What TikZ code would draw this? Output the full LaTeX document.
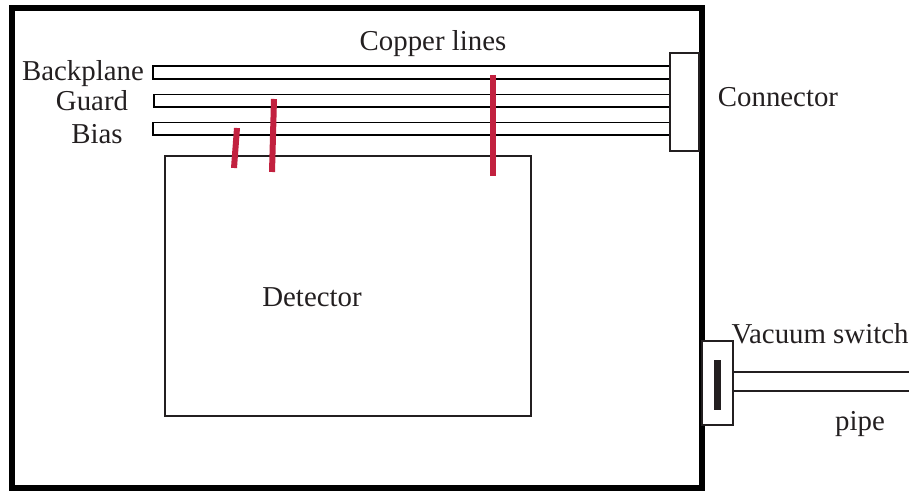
\documentclass[tikz,border=0pt]{standalone}
\usepackage{fontspec}
\setmainfont{Liberation Serif}
\usepackage{xcolor}
\definecolor{textmain}{HTML}{231F20}
\definecolor{strap}{HTML}{C2213F}
\usetikzlibrary{positioning}

\begin{document}
\begin{tikzpicture}[
        x=0.01cm, y=-0.01cm,
        font=\fontsize{8.2}{10}\selectfont,
        label_text/.style={text=textmain, inner sep=0pt, anchor=base},
        frame_line/.style={draw=black, line width=6*0.01cm},
        copper_line/.style={draw=black, line width=1.6*0.01cm},
        strap_line/.style={draw=strap, line width=6*0.01cm},
        box/.style={
            rectangle,
            draw=textmain,
            fill=white,
            line width=1.2*0.01cm,
            inner sep=0pt
        }
    ]
    \useasboundingbox (0, 0) rectangle (909, 495);

    % Vessel
    \draw[frame_line] (12, 8) rectangle (702, 488);

    % Boxes
    \node[box, minimum width=366*0.01cm, minimum height=260*0.01cm] (detector) at (348, 286) {};
    \node[box, minimum width=29*0.01cm, minimum height=98*0.01cm] (connector) at (684.5, 102) {};
    \node[box, minimum width=31*0.01cm, minimum height=84*0.01cm] (switch) at (717.5, 383) {};
    \fill[textmain] (714, 360) rectangle (721, 410);

    % Copper lines
    \foreach \xl/\yt/\yb in {153/66/79, 154/94.5/107, 153/122.5/135} {
        \draw[copper_line] (connector.west |- 0, \yt) -- (\xl, \yt) -- (\xl, \yb) -- (connector.west |- 0, \yb);
    }

    % Straps
    \draw[strap_line] (237, 128) -- (234, 168);
    \draw[strap_line] (274, 99) -- (272, 172);
    \draw[strap_line] (493, 75) -- (493, 176);

    % Pipe
    \coordinate (pipe_top) at (909, 372);
    \coordinate (pipe_bottom) at (909, 391);
    \draw[copper_line, draw=textmain] (switch.east |- pipe_top) -- (pipe_top);
    \draw[copper_line, draw=textmain] (switch.east |- pipe_bottom) -- (pipe_bottom);

    % Labels
    \node[label_text] (copper_label) at (433, 51) {Copper lines};
    \node[label_text] (backplane_label) at (83, 81) {Backplane};
    \node[label_text] (guard_label) at (92, 110.5) {Guard};
    \node[label_text] (bias_label) at (97, 144) {Bias};
    \node[label_text] (connector_label) at (778, 106.5) {Connector};
    \node[label_text] (detector_label) at (312, 307) {Detector};
    \node[label_text] (switch_label) at (820, 343.5) {Vacuum switch};
    \node[label_text] (pipe_label) at (860, 431) {pipe};

\end{tikzpicture}
\end{document}
